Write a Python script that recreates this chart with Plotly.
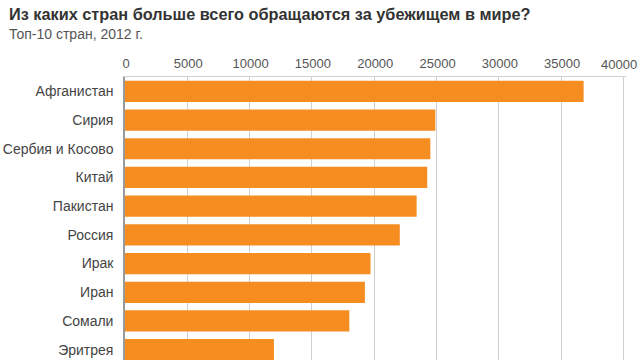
import plotly.graph_objects as go

countries = ["Афганистан", "Сирия", "Сербия и Косово", "Китай", "Пакистан",
             "Россия", "Ирак", "Иран", "Сомали", "Эритрея"]
applications = [36800, 24900, 24500, 24250, 23400, 22050, 19700, 19250, 18000, 11950]
x_ticks = [0, 5000, 10000, 15000, 20000, 25000, 30000, 35000, 40000]

title = "Из каких стран больше всего обращаются за убежищем в мире?"
subtitle = "Топ-10 стран, 2012 г."

W, H = 640, 360
ml, mr, mt, mb = 125, 13.5, 77, 0
pw, ph = W - ml - mr, H - mt - mb
x_max = x_ticks[-1] * 1.005

fig = go.Figure(go.Bar(
    x=applications, y=countries, orientation="h",
    marker=dict(color="#F68D21", line=dict(width=0)),
    width=0.74,
))

def px_x(p):
    return (p - ml) / pw

def px_y(p):
    return (H - mb - p) / ph

tick_text = [str(v) for v in x_ticks[:-1]] + [""]

fig.update_layout(
    width=W, height=H,
    margin=dict(l=ml, r=mr, t=mt, b=mb, autoexpand=False),
    paper_bgcolor="white", plot_bgcolor="white",
    font=dict(family="Liberation Sans, Arial, sans-serif", color="#444"),
    showlegend=False,
    xaxis=dict(side="top", range=[0, x_max], tickvals=x_ticks,
               ticktext=tick_text, automargin=False,
               showgrid=True, gridcolor="#d0d0d0", gridwidth=1,
               zeroline=False, showline=True, linecolor="#d0d0d0",
               mirror=False, ticks="", tickfont=dict(size=13, color="#555"),
               ticklabelstandoff=3, ticklabelshift=1),
    yaxis=dict(categoryorder="array", categoryarray=countries, automargin=False,
               range=[9.36, -0.5], showgrid=False, zeroline=False,
               showline=True, linecolor="#999", linewidth=1.5, ticks="",
               tickfont=dict(size=14, color="#444"), ticklabelstandoff=7),
    annotations=[
        dict(text="<b>" + title + "</b>", xref="paper", yref="paper",
             x=px_x(7), y=px_y(14), xanchor="left", yanchor="middle",
             showarrow=False, font=dict(size=16.3, color="#333")),
        dict(text=subtitle, xref="paper", yref="paper",
             x=px_x(7), y=px_y(34), xanchor="left", yanchor="middle",
             showarrow=False, font=dict(size=14, color="#555")),
        dict(text=str(x_ticks[-1]), xref="x", yref="paper",
             x=x_ticks[-1], xshift=-5, y=px_y(65), xanchor="center",
             yanchor="middle", showarrow=False,
             font=dict(size=13, color="#555")),
    ],
)

fig.write_html("out.html", config={"displayModeBar": False},
               post_script="document.body.style.margin='0';document.body.style.overflow='hidden';")
